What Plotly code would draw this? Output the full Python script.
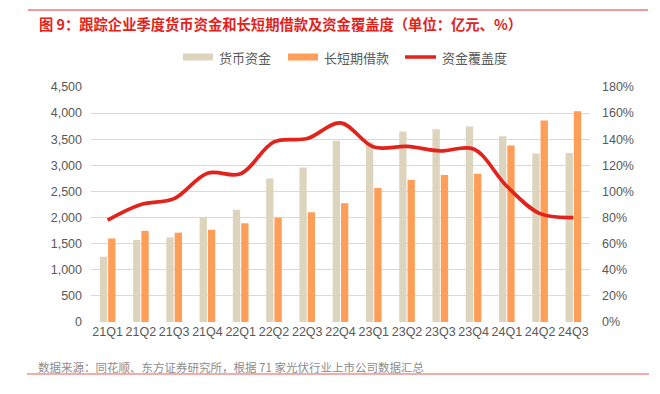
import plotly.graph_objects as go

categories = ["21Q1","21Q2","21Q3","21Q4","22Q1","22Q2","22Q3","22Q4",
              "23Q1","23Q2","23Q3","23Q4","24Q1","24Q2","24Q3"]
cash = [1250, 1570, 1620, 2010, 2150, 2750, 2960, 3470, 3440, 3650, 3690, 3745, 3555, 3225, 3235]
loans = [1600, 1745, 1710, 1765, 1890, 2000, 2100, 2275, 2565, 2720, 2815, 2840, 3380, 3860, 4035]
coverage = [78, 90, 94.5, 114, 113.5, 138, 140.5, 152.5, 134, 134.5, 131, 132.5, 104, 83, 80]

left_ticks = list(range(0, 4501, 500))
right_ticks = list(range(0, 181, 20))
right_labels = [f"{v}%" for v in right_ticks]

FONT = "Liberation Sans, Arial, Noto Sans CJK SC, sans-serif"
CJK = "Noto Sans CJK SC, sans-serif"
GRAY = "#595959"
BEIGE = "#DDD4BD"
ORANGE = "#FF9E58"
RED = "#E2231B"

fig = go.Figure()
fig.add_trace(go.Bar(x=categories, y=cash, name="货币资金", marker_color=BEIGE,
                     marker_line_width=0))
fig.add_trace(go.Bar(x=categories, y=loans, name="长短期借款", marker_color=ORANGE,
                     marker_line_width=0))
fig.add_trace(go.Scatter(x=categories, y=coverage, name="资金覆盖度", yaxis="y2",
                         mode="lines", line=dict(color=RED, width=3.7,
                                                 shape="spline", smoothing=1.0)))

W, H = 660, 394
L, R, T, B = 91, 70, 87, 72
pw, ph = W - L - R, H - T - B

def px(x):
    return (x - L) / pw

def py(y):
    return (H - B - y) / ph

fig.update_layout(
    width=W, height=H,
    margin=dict(l=L, r=R, t=T, b=B, autoexpand=False),
    paper_bgcolor="white", plot_bgcolor="white",
    barmode="group", bargap=0.5, bargroupgap=0.12,
    font=dict(family=FONT, size=12.5, color=GRAY),
    showlegend=False,
    xaxis=dict(type="category", showgrid=False, showline=False, ticks="", automargin=False,
               tickfont=dict(family=FONT, size=12.5, color=GRAY), tickangle=0),
    yaxis=dict(range=[0, 4500], tickvals=left_ticks, tickformat=",", showgrid=True,
               gridcolor="#D9D9D9", gridwidth=1, zeroline=False, showline=False,
               ticks="", ticklabelstandoff=8, automargin=False,
               tickfont=dict(family=FONT, size=12.5, color=GRAY)),
    yaxis2=dict(range=[0, 180], tickvals=right_ticks, ticktext=right_labels,
                overlaying="y", side="right", showgrid=False, zeroline=False,
                showline=False, ticks="", ticklabelstandoff=11, automargin=False,
                tickfont=dict(family=FONT, size=12.5, color=GRAY)),
)

# custom legend (wide swatches like the reference)
legend_items = [
    ("rect", BEIGE, "货币资金", 183, 213),
    ("rect", ORANGE, "长短期借款", 288, 318),
    ("line", RED, "资金覆盖度", 405, 436),
]
ly = 57
for kind, color, label, x0, x1 in legend_items:
    if kind == "rect":
        fig.add_shape(type="rect", xref="paper", yref="paper", x0=px(x0), x1=px(x1),
                      y0=py(ly + 3.5), y1=py(ly - 3.5), fillcolor=color, line_width=0)
    else:
        fig.add_shape(type="line", xref="paper", yref="paper", x0=px(x0), x1=px(x1),
                      y0=py(ly), y1=py(ly), line=dict(color=color, width=3.5))
    fig.add_annotation(text=label, xref="paper", yref="paper", x=px(x1 + 4), y=py(ly),
                       xanchor="left", yanchor="middle", showarrow=False,
                       font=dict(family=CJK, size=13, color=GRAY))

fig.add_annotation(text="<b>图 9：跟踪企业季度货币资金和长短期借款及资金覆盖度（单位：亿元、%）</b>",
                   xref="paper", yref="paper", x=px(37), y=py(23), xanchor="left",
                   yanchor="middle", showarrow=False,
                   font=dict(family=CJK, size=14.3, color="#E2231B"))
fig.add_annotation(text="数据来源：同花顺、东方证券研究所，根据 71 家光伏行业上市公司数据汇总",
                   xref="paper", yref="paper", x=px(36), y=py(367), xanchor="left",
                   yanchor="middle", showarrow=False,
                   font=dict(family=CJK, size=11.5, color="#8C8C8C"))
fig.add_shape(type="line", xref="paper", yref="paper", x0=px(28), x1=px(648),
              y0=py(10), y1=py(10), line=dict(color="#E8322B", width=1))
fig.add_shape(type="line", xref="paper", yref="paper", x0=px(27), x1=px(649),
              y0=py(374), y1=py(374), line=dict(color="#F0918F", width=1.5))

fig.write_html("out.html", config={"displayModeBar": False},
               post_script="document.body.style.margin='0';")
